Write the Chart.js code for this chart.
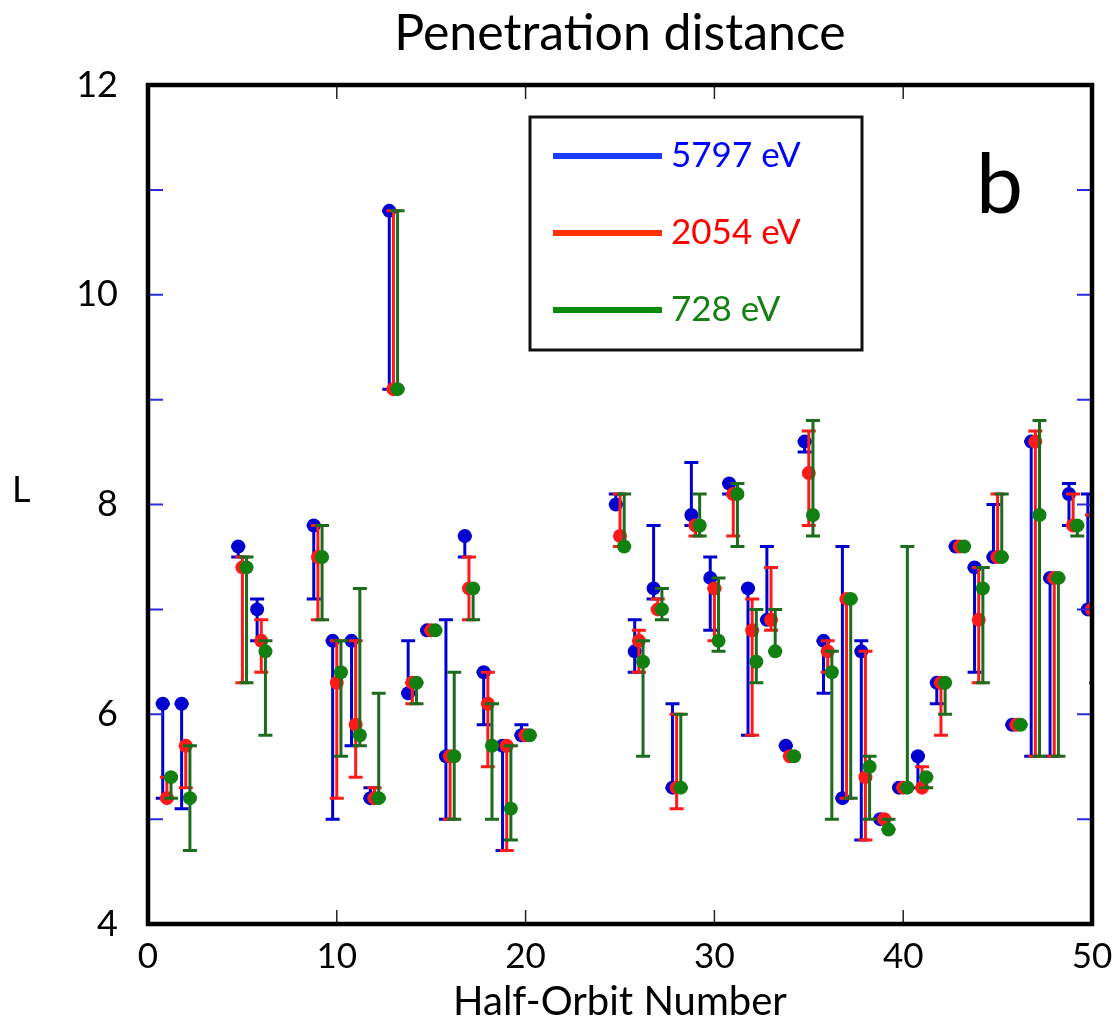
<!DOCTYPE html>
<html>
<head>
  <title>Penetration distance</title>
  <script src="https://cdn.jsdelivr.net/npm/chart.js@4.4.1/dist/chart.umd.min.js"></script>
  <style>
    body { margin: 0; background: #fff; }
  </style>
</head>
<body>
  <canvas id="penChart" width="1112" height="1030"></canvas>

  <script>
    // half-orbit numbers that have data
    const orbits = [1, 2, 5, 6, 9, 10, 11, 12, 13, 14, 15, 16, 17, 18, 19, 20,
      25, 26, 27, 28, 29, 30, 31, 32, 33, 34, 35, 36, 37, 38, 39, 40, 41, 42, 43, 44, 45, 46, 47, 48, 49, 50];

    // 5797 eV
    const blueVal  = [6.1, 6.1, 7.6, 7.0, 7.8, 6.7, 6.7, 5.2, 10.8, 6.2, 6.8, 5.6, 7.7, 6.4, 5.7, 5.8,
      8.0, 6.6, 7.2, 5.3, 7.9, 7.3, 8.2, 7.2, 6.9, 5.7, 8.6, 6.7, 5.2, 6.6, 5.0, 5.3, 5.6, 6.3, 7.6, 7.4, 7.5, 5.9, 8.6, 7.3, 8.1, 7.0];
    const blueLow  = [5.2, 5.1, 7.5, 6.7, 7.1, 5.0, 5.7, 5.2, 9.1, 6.2, 6.8, 5.0, 7.5, 5.9, 4.7, 5.8,
      8.0, 6.4, 7.1, 5.3, 7.8, 6.8, 8.1, 5.8, 6.9, 5.7, 8.5, 6.2, 5.2, 4.8, 5.0, 5.3, 5.3, 6.1, 7.6, 6.4, 7.5, 5.9, 5.6, 5.6, 7.8, 7.0];
    const blueHigh = [6.1, 6.1, 7.6, 7.1, 7.8, 6.7, 6.7, 5.3, 10.8, 6.7, 6.8, 6.9, 7.7, 6.4, 5.7, 5.9,
      8.1, 6.9, 7.8, 6.1, 8.4, 7.5, 8.2, 7.2, 7.6, 5.7, 8.6, 6.7, 7.6, 6.7, 5.0, 5.3, 5.6, 6.3, 7.6, 7.4, 8.0, 5.9, 8.6, 7.3, 8.2, 8.1];

    // 2054 eV
    const redVal  = [5.2, 5.7, 7.4, 6.7, 7.5, 6.3, 5.9, 5.2, 9.1, 6.3, 6.8, 5.6, 7.2, 6.1, 5.7, 5.8,
      7.7, 6.7, 7.0, 5.3, 7.8, 7.2, 8.1, 6.8, 6.9, 5.6, 8.3, 6.6, 7.1, 5.4, 5.0, 5.3, 5.3, 6.3, 7.6, 6.9, 7.5, 5.9, 8.6, 7.3, 7.8, 7.0];
    const redLow  = [5.2, 5.3, 6.3, 6.4, 6.9, 5.2, 5.4, 5.2, 9.1, 6.1, 6.8, 5.0, 6.9, 5.5, 4.7, 5.8,
      7.6, 6.4, 7.0, 5.1, 7.7, 6.7, 7.7, 5.8, 6.8, 5.6, 7.8, 6.4, 5.2, 4.8, 5.0, 5.3, 5.3, 5.8, 7.6, 6.3, 7.5, 5.9, 5.6, 5.6, 7.8, 7.0];
    const redHigh = [5.4, 5.7, 7.5, 6.9, 7.8, 6.7, 6.7, 5.3, 10.8, 6.3, 6.8, 5.6, 7.5, 6.4, 5.7, 5.8,
      8.1, 6.8, 7.1, 6.0, 7.8, 7.2, 8.1, 7.1, 7.4, 5.6, 8.7, 6.7, 7.1, 6.6, 5.0, 5.3, 5.5, 6.3, 7.6, 7.4, 8.1, 5.9, 8.7, 7.3, 8.1, 7.9];

    // 728 eV
    const greenVal  = [5.4, 5.2, 7.4, 6.6, 7.5, 6.4, 5.8, 5.2, 9.1, 6.3, 6.8, 5.6, 7.2, 5.7, 5.1, 5.8,
      7.6, 6.5, 7.0, 5.3, 7.8, 6.7, 8.1, 6.5, 6.6, 5.6, 7.9, 6.4, 7.1, 5.5, 4.9, 5.3, 5.4, 6.3, 7.6, 7.2, 7.5, 5.9, 7.9, 7.3, 7.8, 7.9];
    const greenLow  = [5.2, 4.7, 6.3, 5.8, 6.9, 5.6, 5.7, 5.2, 9.1, 6.1, 6.8, 5.0, 6.9, 5.0, 4.8, 5.8,
      7.6, 5.6, 6.9, 5.3, 7.7, 6.6, 7.6, 6.3, 6.6, 5.6, 7.7, 5.0, 5.2, 5.0, 4.9, 5.3, 5.3, 6.0, 7.6, 6.3, 7.5, 5.9, 5.6, 5.6, 7.7, 6.3];
    const greenHigh = [5.4, 5.7, 7.5, 6.7, 7.8, 6.7, 7.2, 6.2, 10.8, 6.3, 6.8, 6.4, 7.2, 6.1, 5.7, 5.8,
      8.1, 6.7, 7.2, 6.0, 8.1, 7.3, 8.2, 7.0, 7.0, 5.6, 8.8, 6.6, 7.1, 5.6, 5.0, 7.6, 5.4, 6.3, 7.6, 7.4, 8.1, 5.9, 8.8, 7.3, 7.8, 7.9];

    const FONT = 'Lato';

    // each energy sits slightly left/right of the orbit number
    function makeSet(label, vals, lows, highs, shift, marker, bar, legendLine, legendText, order) {
      return {
        label: label,
        data: orbits.map((o, i) => ({ x: o + shift, y: vals[i] })),
        errLow: lows,
        errHigh: highs,
        barColor: bar,
        legendLine: legendLine,
        legendText: legendText,
        backgroundColor: marker,
        borderColor: marker,
        pointRadius: 7,
        pointHoverRadius: 7,
        borderWidth: 0,
        order: order
      };
    }

    // error bars, drawn just before the markers of the same series
    const errorBars = {
      id: 'errorBars',
      beforeDatasetDraw(chart, args) {
        const ds = chart.data.datasets[args.index];
        const xs = chart.scales.x, ys = chart.scales.y;
        const ctx = chart.ctx, area = chart.chartArea;
        ctx.save();
        ctx.beginPath();
        ctx.rect(area.left, area.top, area.right - area.left, area.bottom - area.top);
        ctx.clip();
        ctx.strokeStyle = ds.barColor;
        ctx.lineWidth = 3;
        ds.data.forEach((p, i) => {
          const x = xs.getPixelForValue(p.x);
          const y1 = ys.getPixelForValue(ds.errLow[i]);
          const y2 = ys.getPixelForValue(ds.errHigh[i]);
          ctx.beginPath();
          ctx.moveTo(x, y1); ctx.lineTo(x, y2);
          ctx.moveTo(x - 7, y1); ctx.lineTo(x + 7, y1);
          ctx.moveTo(x - 7, y2); ctx.lineTo(x + 7, y2);
          ctx.stroke();
        });
        ctx.restore();
      }
    };

    // frame, inward ticks, legend box, panel letter, upright y label
    const decorations = {
      id: 'decorations',
      afterDatasetsDraw(chart) {
        const ctx = chart.ctx, a = chart.chartArea;
        const xs = chart.scales.x, ys = chart.scales.y;
        ctx.save();
        ctx.lineWidth = 1.5;
        ctx.strokeStyle = '#222';
        xs.ticks.forEach(t => {
          const x = xs.getPixelForValue(t.value);
          ctx.beginPath();
          ctx.moveTo(x, a.bottom); ctx.lineTo(x, a.bottom - 14);
          ctx.moveTo(x, a.top); ctx.lineTo(x, a.top + 14);
          ctx.stroke();
        });
        ctx.lineWidth = 2;
        ctx.strokeStyle = '#2a2ae0';
        ys.ticks.forEach(t => {
          const y = ys.getPixelForValue(t.value);
          ctx.beginPath();
          ctx.moveTo(a.left, y); ctx.lineTo(a.left + 15, y);
          ctx.moveTo(a.right, y); ctx.lineTo(a.right - 15, y);
          ctx.stroke();
        });
        ctx.lineWidth = 4.5;
        ctx.strokeStyle = '#000';
        ctx.strokeRect(a.left, a.top, a.right - a.left, a.bottom - a.top);
        ctx.restore();
      },
      afterDraw(chart) {
        const ctx = chart.ctx, a = chart.chartArea;
        ctx.save();
        // legend
        const bx = a.left + 382, by = a.top + 32, bw = 332, bh = 233;
        ctx.fillStyle = '#fff';
        ctx.fillRect(bx, by, bw, bh);
        ctx.lineWidth = 3;
        ctx.strokeStyle = '#111';
        ctx.strokeRect(bx, by, bw, bh);
        ctx.font = '35px ' + FONT;
        ctx.textBaseline = 'middle';
        ctx.textAlign = 'left';
        chart.data.datasets.forEach((ds, i) => {
          const y = by + 39 + i * 77;
          ctx.strokeStyle = ds.legendLine;
          ctx.lineWidth = 6;
          ctx.beginPath();
          ctx.moveTo(bx + 23, y); ctx.lineTo(bx + 132, y);
          ctx.stroke();
          ctx.fillStyle = ds.legendText;
          ctx.fillText(ds.label, bx + 141, y);
        });
        // panel letter
        ctx.fillStyle = '#000';
        ctx.font = '84px ' + FONT;
        ctx.textBaseline = 'alphabetic';
        ctx.fillText('b', a.right - 116, a.top + 128);
        // y axis label, not rotated
        ctx.font = '36px ' + FONT;
        ctx.textBaseline = 'middle';
        ctx.fillText('L', 12, 490);
        ctx.restore();
      }
    };

    const ctx = document.getElementById('penChart').getContext('2d');
    new Chart(ctx, {
      type: 'scatter',
      data: {
        datasets: [
          makeSet('5797 eV', blueVal, blueLow, blueHigh, -0.22, '#0000d0', '#0000d0', '#1a3cff', '#0000ff', 3),
          makeSet('2054 eV', redVal, redLow, redHigh, 0, '#ff1a1a', '#ff1a1a', '#ff3300', '#ff0000', 2),
          makeSet('728 eV', greenVal, greenLow, greenHigh, 0.22, '#118011', '#1d6b1d', '#0a8a0a', '#168016', 1)
        ]
      },
      options: {
        responsive: false,
        animation: false,
        layout: { padding: { left: 0, right: 20, top: 0, bottom: 0 } },
        plugins: {
          legend: { display: false },
          tooltip: { enabled: false },
          title: {
            display: true,
            fullSize: false,
            text: 'Penetration distance',
            color: '#000',
            font: { family: FONT, size: 50, weight: 'normal' },
            padding: { top: 4, bottom: 21 }
          }
        },
        scales: {
          x: {
            type: 'linear',
            min: 0,
            max: 50,
            ticks: { stepSize: 10, color: '#000', font: { family: FONT, size: 35 }, padding: 4 },
            grid: { display: false },
            border: { display: false },
            title: { display: true, text: 'Half-Orbit Number', color: '#000', font: { family: FONT, size: 40 }, padding: { top: 0, bottom: 4 } },
            afterFit: s => { s.height = 106; s.paddingLeft = 0; s.paddingRight = 20; }
          },
          y: {
            min: 4,
            max: 12,
            ticks: {
              stepSize: 1,
              color: '#000',
              font: { family: FONT, size: 36 },
              padding: 22,
              callback: v => (v % 2 === 0 ? v : '')
            },
            grid: { display: false },
            border: { display: false },
            afterFit: s => { s.width = 148; }
          }
        }
      },
      plugins: [errorBars, decorations]
    });
  </script>
</body>
</html>
